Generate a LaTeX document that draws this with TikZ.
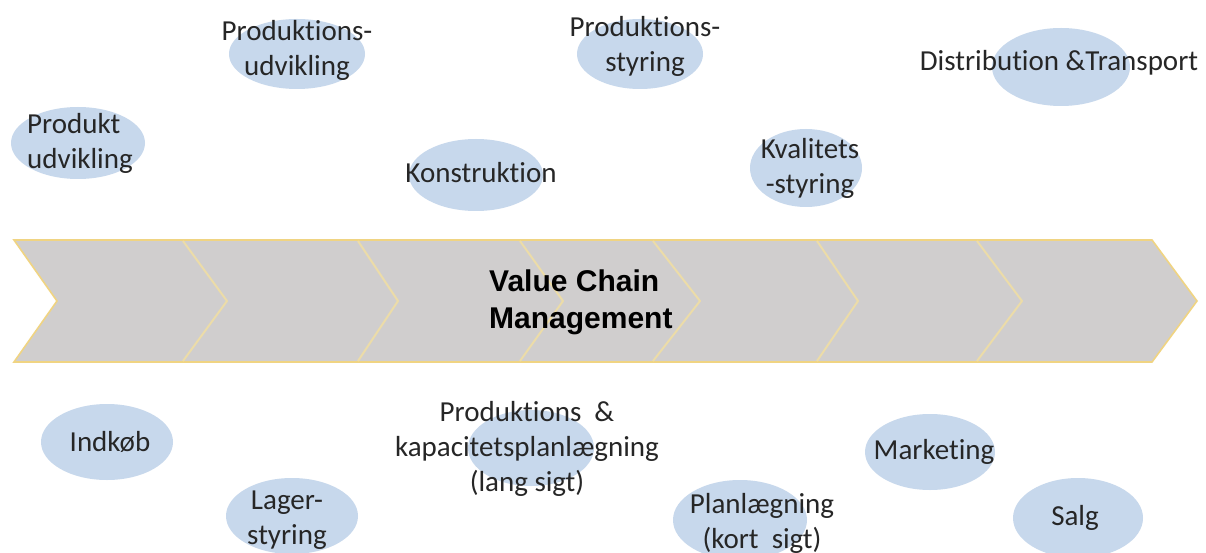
\documentclass[tikz,border=0pt]{standalone}
\usepackage{fontspec}
\setmainfont{Carlito}[Ligatures=NoCommon]
\newfontfamily\vcmfont{Liberation Sans}
\usetikzlibrary{shapes.geometric}
\definecolor{ellblue}{RGB}{199,216,236}
\definecolor{bandgray}{RGB}{208,206,206}
\definecolor{bandedge}{RGB}{240,212,130}
\definecolor{segline}{RGB}{236,220,168}
\definecolor{txt}{RGB}{38,38,38}
\begin{document}
\begin{tikzpicture}[x=1pt,y=-1pt,
  blob/.style={ellipse,fill=ellblue,draw=none,inner sep=0pt},
  lbl/.style={font=\fontsize{29}{35}\selectfont,text=txt,inner sep=0pt,align=center},
  segbound/.style={draw=segline,line width=2pt,line join=round}]
\useasboundingbox[fill=white] (0,0) rectangle (1206,553);
% band
\path[fill=bandgray,draw=bandedge,line width=1.6pt,line join=miter]
  (14,240) -- (1152,240) -- (1197,301) -- (1152,362) -- (14,362) -- (57,301) -- cycle;
\foreach \t/\p in {183/227,358/398,520/563,653/700,817/858,977/1022}{
  \draw[segbound] (\t,241) -- (\p,301) -- (\t,361);
}
% ellipses
\node[blob,minimum width=136pt,minimum height=70pt] (e1) at (297,54) {};
\node[blob,minimum width=134pt,minimum height=72pt] (e2) at (78,143) {};
\node[blob,minimum width=134pt,minimum height=72pt] (e3) at (476,175) {};
\node[blob,minimum width=126pt,minimum height=70pt] (e4) at (640,54) {};
\node[blob,minimum width=112pt,minimum height=78pt] (e5) at (806,168) {};
\node[blob,minimum width=138pt,minimum height=78pt] (e6) at (1061,67) {};
\node[blob,minimum width=132pt,minimum height=76pt] (e7) at (107,442) {};
\node[blob,minimum width=132pt,minimum height=76pt] (e8) at (292,516) {};
\node[blob,minimum width=126pt,minimum height=76pt] (e9) at (531,448) {};
\node[blob,minimum width=134pt,minimum height=80pt] (e10) at (740,520) {};
\node[blob,minimum width=130pt,minimum height=76pt] (e11) at (930,452) {};
\node[blob,minimum width=130pt,minimum height=80pt] (e12) at (1078,518) {};
% labels
\node[lbl] (t1) at (297,50) {Produktions-\\udvikling};
\node[lbl,align=left,anchor=west] (t2) at (27,143) {Produkt\\udvikling};
\node[lbl] (t3) at (481,173) {Konstruktion};
\node[lbl] (t4) at (645,46) {Produktions-\\styring};
\node[lbl] (t5) at (810,168) {Kvalitets\\-styring};
\node[lbl] (t6) at (1059,63) {Distribution \&Transport};
\node[lbl] (t7) at (110,442) {Indkøb};
\node[lbl] (t8) at (287,520) {Lager-\\styring};
\node[lbl] (t9) at (527,449) {Produktions\ \ \&\\kapacitetsplanlægning\\(lang sigt)};
\node[lbl] (t10) at (762,523) {Planlægning\\(kort\ \ sigt)};
\node[lbl] (t11) at (934,452) {Marketing};
\node[lbl] (t12) at (1075,518) {Salg};
\node[font=\vcmfont\bfseries\fontsize{30}{37}\selectfont,align=left,anchor=west,inner sep=0pt] (vcm) at (489,302) {Value Chain\\Management};
\end{tikzpicture}
\end{document}
